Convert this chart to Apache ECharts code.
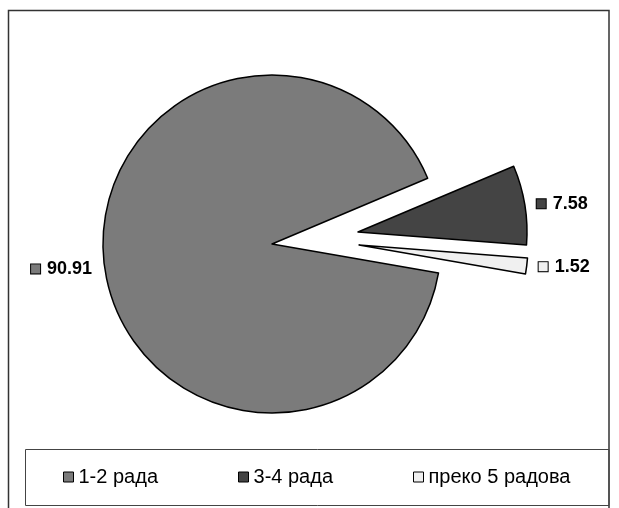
<!DOCTYPE html>
<html>
<head>
<meta charset="utf-8">
<script src="https://cdn.jsdelivr.net/npm/echarts@6/dist/echarts.min.js"></script>
<style>
  html, body { margin: 0; padding: 0; background: #fff; }
  #chart { width: 619px; height: 508px; }
</style>
</head>
<body>
<div id="chart"></div>
<script>
// Number of papers per author (share, %)
const categories = ['1-2 рада', '3-4 рада', 'преко 5 радова'];
const shares = [90.91, 7.58, 1.52];

const sliceColors = ['#7b7b7b', '#444444', '#f0f0f0'];
const FONT = '"Liberation Sans", Arial, sans-serif';

// Each slice gets its own pie series so that the two small ones can be pulled out.
const sliceCenters = [[272, 244], [358, 232], [359, 245]];
const labelPadding = [[10, 0, 0, 0], 0, 0];

function pieFor(k) {
  return {
    type: 'pie',
    silent: true,
    animation: false,
    center: sliceCenters[k],
    radius: 169,
    startAngle: -9.85,
    clockwise: true,
    avoidLabelOverlap: false,
    label: { show: false },
    labelLine: { show: false, length: 6, length2: 1 },
    data: shares.map((v, i) => {
      if (i !== k) {
        return {
          name: categories[i], value: v,
          itemStyle: { color: 'rgba(0,0,0,0)', borderWidth: 0 },
          label: { show: false }
        };
      }
      return {
        name: categories[i], value: v,
        itemStyle: { color: sliceColors[i], borderColor: '#000', borderWidth: 1.5 },
        label: {
          show: true,
          position: 'outside',
          padding: labelPadding[i],
          formatter: p => '{sq|}{v|' + p.value.toFixed(2) + '}',
          rich: {
            sq: { width: 9, height: 9, backgroundColor: sliceColors[i], borderColor: '#000', borderWidth: 1 },
            v: { fontFamily: FONT, fontSize: 18, fontWeight: 'bold', color: '#000', padding: [0, 0, 0, 7] }
          }
        }
      };
    })
  };
}

const chart = echarts.init(document.getElementById('chart'), null, { renderer: 'canvas' });
chart.setOption({
  backgroundColor: '#fff',
  animation: false,
  graphic: [
    { type: 'rect', z: -1, shape: { x: 8.5, y: 10.5, width: 600.5, height: 520 },
      style: { fill: '#fff', stroke: '#333', lineWidth: 1.5 } },
    { type: 'rect', z: 0, shape: { x: 25.5, y: 449.5, width: 583.5, height: 56 },
      style: { fill: 'none', stroke: '#444', lineWidth: 1 } }
  ],
  legend: {
    left: 63,
    top: 467,
    padding: 0,
    icon: 'rect',
    itemWidth: 10,
    itemHeight: 10,
    itemGap: 80,
    selectedMode: false,
    textStyle: { fontFamily: FONT, fontSize: 20, color: '#000' },
    data: categories.map((n, i) => ({
      name: n,
      itemStyle: { color: sliceColors[i], borderColor: '#000', borderWidth: 1 }
    }))
  },
  series: [pieFor(0), pieFor(1), pieFor(2)]
});
</script>
</body>
</html>
